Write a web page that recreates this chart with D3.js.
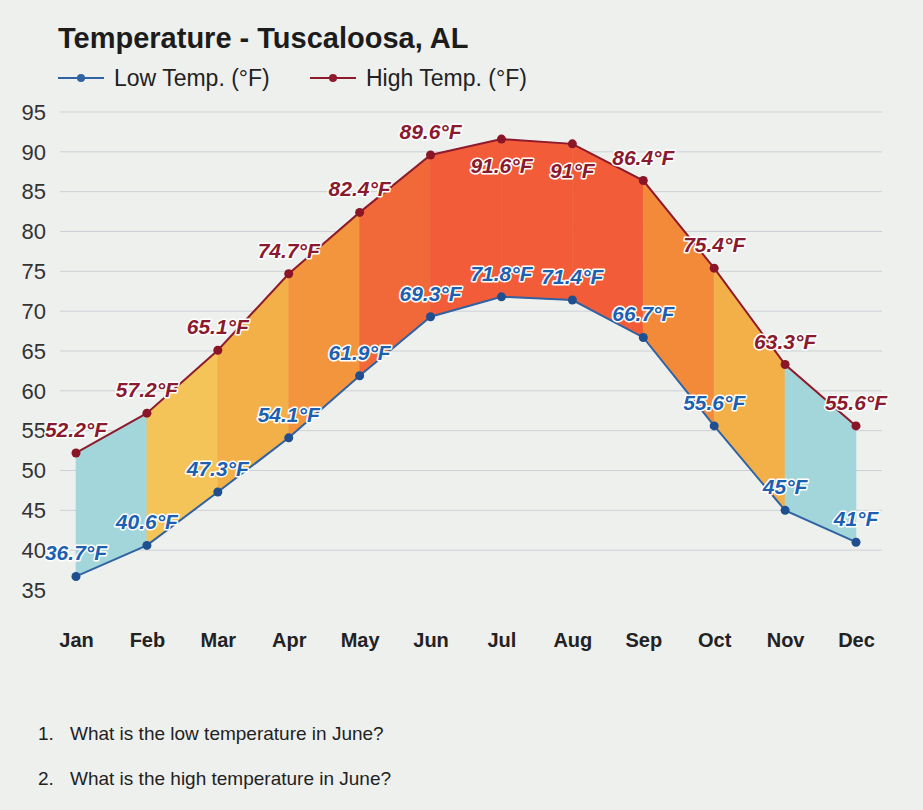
<!DOCTYPE html>
<html>
<head>
<meta charset="utf-8">
<script src="https://cdn.jsdelivr.net/npm/d3@7"></script>
<style>
    html, body { margin: 0; padding: 0; background: #eef0ee; }
    svg { display: block; font-family: "Liberation Sans", Arial, sans-serif; }
    .grid line { stroke: #cdd1d5; stroke-width: 1; }
    .lbl { font-weight: bold; font-style: italic; font-size: 21px; paint-order: stroke; stroke: #fff; stroke-width: 3px; stroke-linejoin: round; }
</style>
</head>
<body>
<div id="chart"></div>
<script>
const months = ["Jan", "Feb", "Mar", "Apr", "May", "Jun", "Jul", "Aug", "Sep", "Oct", "Nov", "Dec"]
const highTemps = [52.2, 57.2, 65.1, 74.7, 82.4, 89.6, 91.6, 91, 86.4, 75.4, 63.3, 55.6]
const lowTemps = [36.7, 40.6, 47.3, 54.1, 61.9, 69.3, 71.8, 71.4, 66.7, 55.6, 45, 41]
const yTicks = [35, 40, 45, 50, 55, 60, 65, 70, 75, 80, 85, 90, 95]
const questions = ["What is the low temperature in June?", "What is the high temperature in June?"]

const width = 923, height = 810
const highColor = "#8e1b2c", lowColor = "#2f63a3"

const svg = d3.select("#chart").append("svg")
    .attr("width", width)
    .attr("height", height)

const x = d3.scalePoint().domain(months).range([76, 856])
const y = d3.scaleLinear().domain([35, 95]).range([590, 112])

// title + legend
svg.append("text")
    .attr("x", 58).attr("y", 48)
    .attr("font-size", 29).attr("font-weight", "bold").attr("fill", "#1c1c1c")
    .text("Temperature - Tuscaloosa, AL")

const legend = [
    { name: "Low Temp. (°F)", color: lowColor, x0: 58 },
    { name: "High Temp. (°F)", color: highColor, x0: 310 }
]
const lg = svg.append("g").selectAll("g").data(legend).enter().append("g")
    .attr("transform", d => `translate(${d.x0},78)`)
lg.append("line").attr("x1", 0).attr("x2", 46).attr("stroke", d => d.color).attr("stroke-width", 2)
lg.append("circle").attr("cx", 23).attr("r", 4).attr("fill", d => d.color)
lg.append("text").attr("x", 56).attr("dy", "0.35em")
    .attr("font-size", 23).attr("fill", "#222").text(d => d.name)

// grid + y labels
svg.append("g").attr("class", "grid")
    .selectAll("line").data(yTicks.filter(t => t > 35)).enter().append("line")
    .attr("x1", 60).attr("x2", 882)
    .attr("y1", d => y(d)).attr("y2", d => y(d))

svg.append("g").selectAll("text").data(yTicks).enter().append("text")
    .attr("x", 46).attr("y", d => y(d)).attr("dy", "0.35em")
    .attr("text-anchor", "end").attr("font-size", 22).attr("fill", "#333")
    .text(d => d)

// band segments coloured by mean high temp of the segment
const warm = d3.scaleLinear()
    .domain([61, 72, 80, 88])
    .range(["#f5c458", "#f2aa44", "#f2903a", "#f25c38"])
    .clamp(true)
const segColor = m => m < 60 ? "#a3d6da" : warm(m)

const rows = months.map((m, i) => ({ month: m, high: highTemps[i], low: lowTemps[i] }))
const area = d3.area().x(d => x(d.month)).y0(d => y(d.low)).y1(d => y(d.high))

svg.append("g").selectAll("path")
    .data(d3.range(rows.length - 1).map(i => [rows[i], rows[i + 1]]))
    .enter().append("path")
    .attr("d", area)
    .attr("fill", d => segColor((d[0].high + d[1].high) / 2))
    .attr("stroke", d => segColor((d[0].high + d[1].high) / 2))
    .attr("stroke-width", 0.6)

// lines, points, labels
const series = [
    { key: "low", color: lowColor, dot: "#1f4f8f" },
    { key: "high", color: highColor, dot: "#8a1526" }
]
series.forEach(s => {
    const line = d3.line().x(d => x(d.month)).y(d => y(d[s.key]))
    svg.append("path").datum(rows)
        .attr("d", line).attr("fill", "none")
        .attr("stroke", s.color).attr("stroke-width", 2)
    svg.append("g").selectAll("circle").data(rows).enter().append("circle")
        .attr("cx", d => x(d.month)).attr("cy", d => y(d[s.key]))
        .attr("r", 4.5).attr("fill", s.dot)
    svg.append("g").selectAll("text").data(rows).enter().append("text")
        .attr("class", "lbl")
        .attr("x", d => x(d.month))
        .attr("y", d => d[s.key] > 90 ? y(d[s.key]) + 34 : y(d[s.key]) - 16)
        .attr("text-anchor", "middle")
        .attr("fill", s.color === highColor ? "#8a1a2e" : "#1d5fb0")
        .text(d => `${d[s.key]}°F`)
})

// month axis
const xAxis = svg.append("g")
    .attr("transform", "translate(0,640)")
    .call(d3.axisBottom(x).tickSize(0).tickPadding(0))
xAxis.select(".domain").remove()
xAxis.selectAll("text")
    .attr("font-size", 20).attr("font-weight", "bold").attr("fill", "#222")
    .attr("font-family", "Liberation Sans, Arial, sans-serif")
    .attr("dy", "0.35em")

// questions below the chart
const q = svg.append("g").selectAll("g").data(questions).enter().append("g")
    .attr("transform", (d, i) => `translate(38,${740 + i * 45})`)
q.append("text").attr("font-size", 19).attr("fill", "#222")
    .text((d, i) => `${i + 1}.`)
q.append("text").attr("x", 32).attr("font-size", 19).attr("fill", "#222")
    .text(d => d)
</script>
</body>
</html>
